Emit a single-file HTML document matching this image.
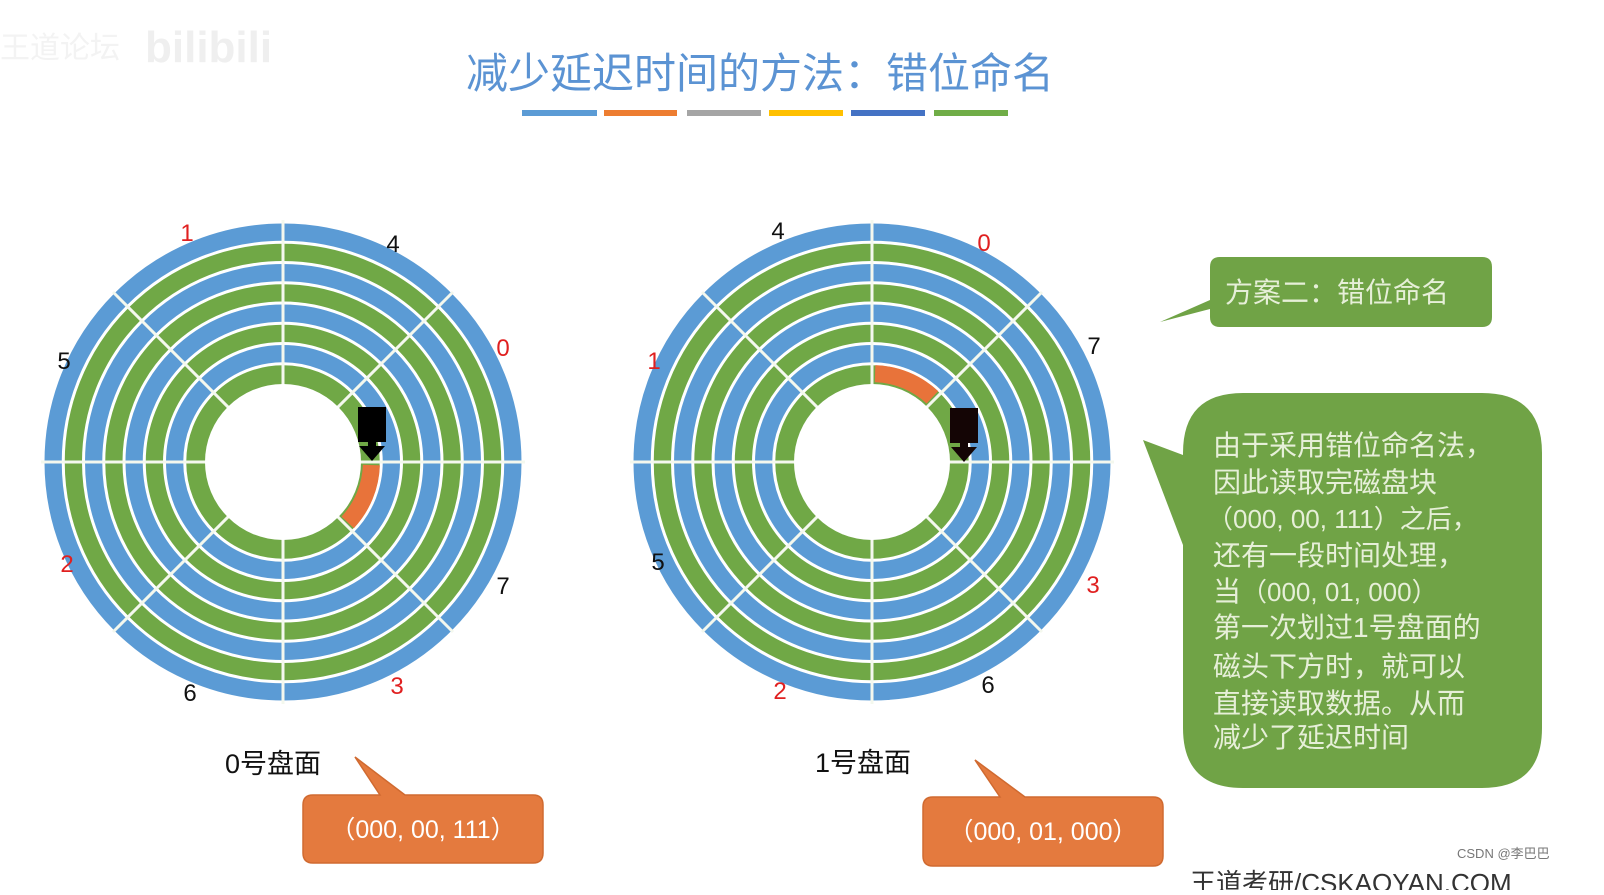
<!DOCTYPE html>
<html><head><meta charset="utf-8"><style>
body{margin:0;background:#fff;}
svg text{font-family:"Liberation Sans","Noto Sans CJK SC",sans-serif;}
</style></head><body>
<svg width="1604" height="890" viewBox="0 0 1604 890" xmlns="http://www.w3.org/2000/svg">
<rect width="1604" height="890" fill="#fff"/>
<text x="0" y="58" font-size="30" fill="#f3f3f3" font-family="Noto Sans CJK SC,sans-serif">王道论坛</text>
<text x="145" y="62" font-size="44" font-weight="bold" fill="#efefef">bilibili</text>
<text x="760" y="88" font-size="42" fill="#5b93d3" text-anchor="middle" font-family="Noto Serif CJK SC,Noto Sans CJK SC,serif">减少延迟时间的方法：错位命名</text>
<rect x="522" y="110" width="75" height="6" fill="#5b9bd5"/>
<rect x="604" y="110" width="73" height="6" fill="#ed7d31"/>
<rect x="687" y="110" width="74" height="6" fill="#a5a5a5"/>
<rect x="769" y="110" width="74" height="6" fill="#ffc000"/>
<rect x="851" y="110" width="74" height="6" fill="#4472c4"/>
<rect x="934" y="110" width="74" height="6" fill="#70ad47"/>

<defs>
<g id="disk">
<circle r="240" fill="#5b9bd5" stroke="#fff" stroke-width="3"/>
<circle r="219.75" fill="#70a846" stroke="#fff" stroke-width="3"/>
<circle r="199.5" fill="#5b9bd5" stroke="#fff" stroke-width="3"/>
<circle r="179.25" fill="#70a846" stroke="#fff" stroke-width="3"/>
<circle r="159" fill="#5b9bd5" stroke="#fff" stroke-width="3"/>
<circle r="138.75" fill="#70a846" stroke="#fff" stroke-width="3"/>
<circle r="118.5" fill="#5b9bd5" stroke="#fff" stroke-width="3"/>
<circle r="98.25" fill="#70a846" stroke="#fff" stroke-width="3"/>
<g stroke="#f4f8ee" stroke-width="3">
<line x1="-242" y1="0" x2="242" y2="0"/>
<line x1="0" y1="-242" x2="0" y2="242"/>
<line x1="-170" y1="-170" x2="170" y2="170"/>
<line x1="-170" y1="170" x2="170" y2="-170"/>
</g>
<circle r="78" fill="#fff"/>
</g>
</defs>
<use href="#disk" x="283" y="462"/>
<use href="#disk" x="872" y="462"/>
<path d="M379.9,465.4 A97,97 0 0 1 353.9,528.2 L341.5,516.6 A80,80 0 0 0 362.9,464.8 Z" fill="#e8733a"/>
<path d="M875.4,365.1 A97,97 0 0 1 938.2,391.1 L926.6,403.5 A80,80 0 0 0 874.8,382.1 Z" fill="#e8733a"/>
<rect x="358" y="407" width="28" height="35" fill="#000"/>
<rect x="368" y="440" width="8" height="8" fill="#000"/>
<polygon points="359,446 385,446 372,461" fill="#000"/>
<rect x="950" y="408" width="28" height="35" fill="#140505"/>
<rect x="960" y="441" width="8" height="8" fill="#140505"/>
<polygon points="951,447 977,447 964,462" fill="#140505"/>

<g font-size="24">
<text x="187" y="241" fill="#e02020" text-anchor="middle">1</text>
<text x="393" y="252" fill="#111" text-anchor="middle">4</text>
<text x="503" y="356" fill="#e02020" text-anchor="middle">0</text>
<text x="64" y="369" fill="#111" text-anchor="middle">5</text>
<text x="67" y="572" fill="#e02020" text-anchor="middle">2</text>
<text x="503" y="594" fill="#111" text-anchor="middle">7</text>
<text x="190" y="701" fill="#111" text-anchor="middle">6</text>
<text x="397" y="694" fill="#e02020" text-anchor="middle">3</text>
<text x="778" y="239" fill="#111" text-anchor="middle">4</text>
<text x="984" y="251" fill="#e02020" text-anchor="middle">0</text>
<text x="1094" y="354" fill="#111" text-anchor="middle">7</text>
<text x="654" y="369" fill="#e02020" text-anchor="middle">1</text>
<text x="658" y="570" fill="#111" text-anchor="middle">5</text>
<text x="1093" y="593" fill="#e02020" text-anchor="middle">3</text>
<text x="780" y="699" fill="#e02020" text-anchor="middle">2</text>
<text x="988" y="693" fill="#111" text-anchor="middle">6</text>
</g>
<text x="225" y="773" font-size="27" fill="#111">0号盘面</text>
<text x="815" y="772" font-size="27" fill="#111">1号盘面</text>

<path d="M313,795 L380,795 L355,757 L405,795 L533,795 Q543,795 543,805 L543,853 Q543,863 533,863 L313,863 Q303,863 303,853 L303,805 Q303,795 313,795 Z" fill="#e47a3e" stroke="#d06a30" stroke-width="1.5"/>
<text x="423" y="838" font-size="25" fill="#fff" text-anchor="middle">（000, 00, 111）</text>
<path d="M933,797 L1000,797 L975,760 L1025,797 L1153,797 Q1163,797 1163,807 L1163,856 Q1163,866 1153,866 L933,866 Q923,866 923,856 L923,807 Q923,797 933,797 Z" fill="#e47a3e" stroke="#d06a30" stroke-width="1.5"/>
<text x="1043" y="840" font-size="25" fill="#fff" text-anchor="middle">（000, 01, 000）</text>

<path d="M1220,257 L1482,257 Q1492,257 1492,267 L1492,317 Q1492,327 1482,327 L1220,327 Q1210,327 1210,317 L1210,309 L1160,322 L1210,300 L1210,267 Q1210,257 1220,257 Z" fill="#70a346"/>
<text x="1225" y="302" font-size="28" fill="#e6efd8" font-family="Noto Serif CJK SC,serif">方案二：错位命名</text>

<path d="M1243,393 L1482,393 Q1542,393 1542,453 L1542,728 Q1542,788 1482,788 L1243,788 Q1183,788 1183,728 L1183,545 L1143,440 L1183,455 L1183,453 Q1183,393 1243,393 Z" fill="#70a346"/>
<g font-size="28" fill="#e6efd8" font-family="Noto Serif CJK SC,serif">
<text x="1213" y="455">由于采用错位命名法，</text>
<text x="1213" y="492">因此读取完磁盘块</text>
<text x="1207" y="528" font-family="Liberation Sans,Noto Sans CJK SC,sans-serif" font-size="26">（000, 00, 111）之后，</text>
<text x="1213" y="565">还有一段时间处理，</text>
<text x="1213" y="601"><tspan>当</tspan><tspan font-family="Liberation Sans,Noto Sans CJK SC,sans-serif" font-size="26">（000, 01, 000）</tspan></text>
<text x="1213" y="637">第一次划过1号盘面的</text>
<text x="1213" y="676">磁头下方时，就可以</text>
<text x="1213" y="713">直接读取数据。从而</text>
<text x="1213" y="747">减少了延迟时间</text>
</g>
<text x="1457" y="858" font-size="13" fill="#777">CSDN @李巴巴</text>
<text x="1190" y="892" font-size="26" fill="#333">王道考研/CSKAOYAN.COM</text>
</svg>
</body></html>
